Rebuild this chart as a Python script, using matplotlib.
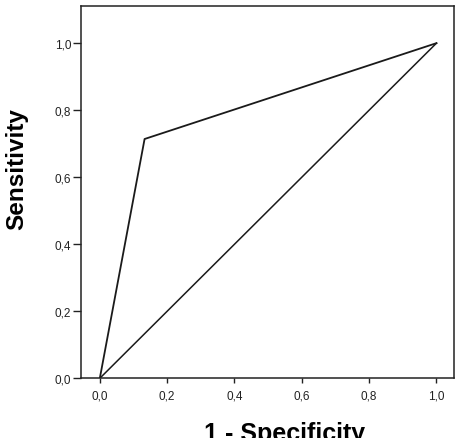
import matplotlib
matplotlib.use('Agg')
import matplotlib.pyplot as plt

plt.rcParams['font.family'] = ['Liberation Sans', 'DejaVu Sans']

# ROC curve points (1 - specificity, sensitivity)
fpr = [0.0, 0.133, 1.0]
tpr = [0.0, 0.714, 1.0]
ref_line = [0.0, 1.0]

ticks = [0.0, 0.2, 0.4, 0.6, 0.8, 1.0]
tick_labels = ['0,0', '0,2', '0,4', '0,6', '0,8', '1,0']

fig = plt.figure(figsize=(4.58, 4.39), dpi=100)
ax = fig.add_axes([0.1775, 0.136, 0.8137, 0.8474])

ax.plot(fpr, tpr, color='#1a1a1a', linewidth=1.3)
ax.plot(ref_line, ref_line, color='#1a1a1a', linewidth=1.1)

ax.set_xlim(-0.055, 1.052)
ax.set_ylim(0.0, 1.11)

ax.set_xticks(ticks)
ax.set_xticklabels(tick_labels)
ax.set_yticks(ticks)
ax.set_yticklabels(tick_labels)
ax.tick_params(axis='x', length=3.6, width=1.0, pad=4.5, labelsize=8.5, colors='#222222')
ax.tick_params(axis='y', length=5.8, width=1.0, pad=1.5, labelsize=8.5, colors='#222222')

for s in ax.spines.values():
    s.set_linewidth(1.1)
    s.set_color('#222222')

ax.set_ylabel('Sensitivity', fontsize=17.5, fontweight='bold', va='center')
ax.yaxis.set_label_coords(-0.172, 0.565)
ax.set_xlabel('1 - Specificity', fontsize=18, fontweight='bold')
ax.xaxis.set_label_coords(0.545, -0.114)
ax.xaxis.label.set_va('top')

fig.savefig('out.png', dpi=100)
